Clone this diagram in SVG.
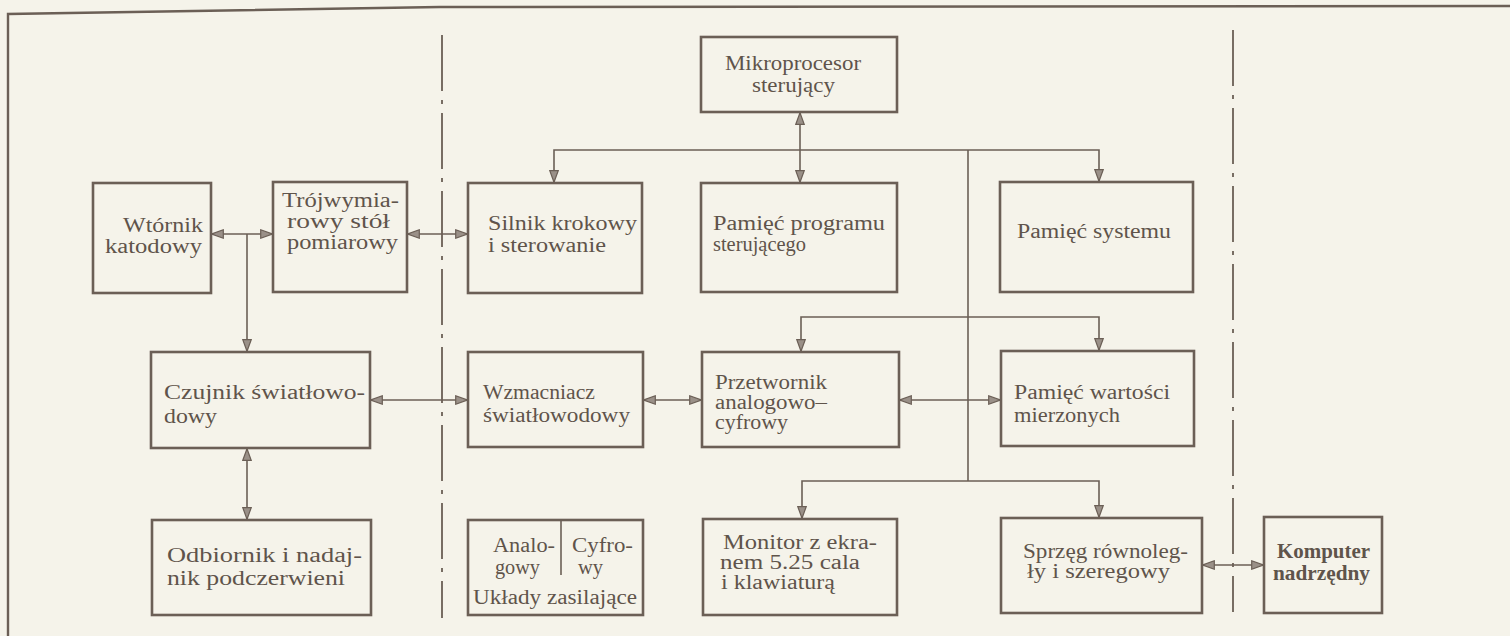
<svg xmlns="http://www.w3.org/2000/svg" width="1510" height="636" viewBox="0 0 1510 636">
<defs>
<style>
.bg{fill:#f5f3ea}
.box{fill:none;stroke:#6b5f56;stroke-width:2.6}
.ln{fill:none;stroke:#6b5f56;stroke-width:1.6}
.dd{fill:none;stroke:#6b5f56;stroke-width:1.8;stroke-dasharray:56 9 4 9}
.frame{fill:none;stroke:#6b5f56;stroke-width:2.4}
text{font-family:"Liberation Serif","DejaVu Serif",serif;font-size:20px;fill:#5f544b}
.b{font-weight:bold}
</style>
<marker id="ah" viewBox="0 0 13 10" refX="13" refY="5" markerWidth="13" markerHeight="10" markerUnits="userSpaceOnUse" orient="auto-start-reverse">
<path d="M0.7,0.8 L12.3,5 L0.7,9.2 z" fill="#9a9088" stroke="#6b5f56" stroke-width="1.2"/>
</marker>
</defs>
<rect class="bg" x="0" y="0" width="1510" height="636"/>
<path class="frame" d="M8,636 L8,14 L440,7 L1510,6"/>
<path class="dd" d="M442,35 V618"/>
<path class="dd" d="M1233,30 V612"/>

<g id="connectors">
<path class="ln" d="M211,234 H273" marker-start="url(#ah)" marker-end="url(#ah)"/>
<path class="ln" d="M247,234 V352" marker-end="url(#ah)"/>
<path class="ln" d="M407,234 H468" marker-start="url(#ah)" marker-end="url(#ah)"/>
<path class="ln" d="M370,400 H468" marker-start="url(#ah)" marker-end="url(#ah)"/>
<path class="ln" d="M247,448 V520" marker-start="url(#ah)" marker-end="url(#ah)"/>
<path class="ln" d="M643,400 H702" marker-start="url(#ah)" marker-end="url(#ah)"/>
<path class="ln" d="M899,400 H1001" marker-start="url(#ah)" marker-end="url(#ah)"/>
<path class="ln" d="M1202,565 H1264" marker-start="url(#ah)" marker-end="url(#ah)"/>
<path class="ln" d="M800,112 V183" marker-start="url(#ah)" marker-end="url(#ah)"/>
<path class="ln" d="M554,183 V150 H1099 V182" marker-start="url(#ah)" marker-end="url(#ah)"/>
<path class="ln" d="M968,150 V481"/>
<path class="ln" d="M801,352 V317 H1099 V351" marker-start="url(#ah)" marker-end="url(#ah)"/>
<path class="ln" d="M802,519 V481 H1099 V518" marker-start="url(#ah)" marker-end="url(#ah)"/>
</g>

<g id="wtornik">
<rect class="box" x="93" y="183" width="118" height="110"/>
<text x="123" y="232" textLength="80" lengthAdjust="spacingAndGlyphs">Wtórnik</text>
<text x="105" y="253" textLength="97" lengthAdjust="spacingAndGlyphs">katodowy</text>
</g>
<g id="stol">
<rect class="box" x="273" y="182" width="134" height="110"/>
<text x="282" y="207" textLength="117" lengthAdjust="spacingAndGlyphs">Trójwymia-</text>
<text x="287" y="228" textLength="103" lengthAdjust="spacingAndGlyphs">rowy stół</text>
<text x="287" y="249" textLength="111" lengthAdjust="spacingAndGlyphs">pomiarowy</text>
</g>
<g id="silnik">
<rect class="box" x="468" y="183" width="174" height="110"/>
<text x="488" y="230" textLength="149" lengthAdjust="spacingAndGlyphs">Silnik krokowy</text>
<text x="488" y="252" textLength="118" lengthAdjust="spacingAndGlyphs">i sterowanie</text>
</g>
<g id="mikroprocesor">
<rect class="box" x="701" y="37" width="196" height="75"/>
<text x="725" y="70" textLength="136" lengthAdjust="spacingAndGlyphs">Mikroprocesor</text>
<text x="752" y="92" textLength="83" lengthAdjust="spacingAndGlyphs">sterujący</text>
</g>
<g id="pamiec-programu">
<rect class="box" x="701" y="183" width="196" height="109"/>
<text x="713" y="230" textLength="172" lengthAdjust="spacingAndGlyphs">Pamięć programu</text>
<text x="713" y="251" textLength="93" lengthAdjust="spacingAndGlyphs">sterującego</text>
</g>
<g id="pamiec-systemu">
<rect class="box" x="1000" y="182" width="193" height="110"/>
<text x="1017" y="238" textLength="154" lengthAdjust="spacingAndGlyphs">Pamięć systemu</text>
</g>
<g id="czujnik">
<rect class="box" x="151" y="352" width="219" height="96"/>
<text x="164" y="399" textLength="201" lengthAdjust="spacingAndGlyphs">Czujnik światłowo-</text>
<text x="164" y="423" textLength="53" lengthAdjust="spacingAndGlyphs">dowy</text>
</g>
<g id="odbiornik">
<rect class="box" x="152" y="520" width="219" height="95"/>
<text x="167" y="562" textLength="195" lengthAdjust="spacingAndGlyphs">Odbiornik i nadaj-</text>
<text x="167" y="585" textLength="178" lengthAdjust="spacingAndGlyphs">nik podczerwieni</text>
</g>
<g id="wzmacniacz">
<rect class="box" x="468" y="352" width="175" height="95"/>
<text x="483" y="399" textLength="112" lengthAdjust="spacingAndGlyphs">Wzmacniacz</text>
<text x="483" y="422" textLength="147" lengthAdjust="spacingAndGlyphs">światłowodowy</text>
</g>
<g id="przetwornik">
<rect class="box" x="702" y="352" width="197" height="95"/>
<text x="715" y="389" textLength="112" lengthAdjust="spacingAndGlyphs">Przetwornik</text>
<text x="715" y="409" textLength="112" lengthAdjust="spacingAndGlyphs">analogowo–</text>
<text x="715" y="429" textLength="73" lengthAdjust="spacingAndGlyphs">cyfrowy</text>
</g>
<g id="pamiec-wartosci">
<rect class="box" x="1001" y="351" width="193" height="95"/>
<text x="1014" y="399" textLength="156" lengthAdjust="spacingAndGlyphs">Pamięć wartości</text>
<text x="1014" y="422" textLength="106" lengthAdjust="spacingAndGlyphs">mierzonych</text>
</g>
<g id="zasilanie">
<rect class="box" x="468" y="520" width="175" height="95"/>
<path class="ln" d="M561,520 V575"/>
<text x="493" y="552" textLength="62" lengthAdjust="spacingAndGlyphs">Analo-</text>
<text x="495" y="574" textLength="45" lengthAdjust="spacingAndGlyphs">gowy</text>
<text x="572" y="552" textLength="61" lengthAdjust="spacingAndGlyphs">Cyfro-</text>
<text x="578" y="574" textLength="25" lengthAdjust="spacingAndGlyphs">wy</text>
<text x="473" y="604" textLength="164" lengthAdjust="spacingAndGlyphs">Układy zasilające</text>
</g>
<g id="monitor">
<rect class="box" x="703" y="519" width="194" height="96"/>
<text x="723" y="549" textLength="154" lengthAdjust="spacingAndGlyphs">Monitor z ekra-</text>
<text x="720" y="569" textLength="140" lengthAdjust="spacingAndGlyphs">nem 5.25 cala</text>
<text x="721" y="589" textLength="114" lengthAdjust="spacingAndGlyphs">i klawiaturą</text>
</g>
<g id="sprzeg">
<rect class="box" x="1001" y="518" width="201" height="95"/>
<text x="1023" y="558" textLength="165" lengthAdjust="spacingAndGlyphs">Sprzęg równoleg-</text>
<text x="1027" y="578" textLength="143" lengthAdjust="spacingAndGlyphs">ły i szeregowy</text>
</g>
<g id="komputer">
<rect class="box" x="1264" y="517" width="118" height="96"/>
<text class="b" x="1277" y="558" textLength="93" lengthAdjust="spacingAndGlyphs">Komputer</text>
<text class="b" x="1273" y="580" textLength="97" lengthAdjust="spacingAndGlyphs">nadrzędny</text>
</g>
</svg>
